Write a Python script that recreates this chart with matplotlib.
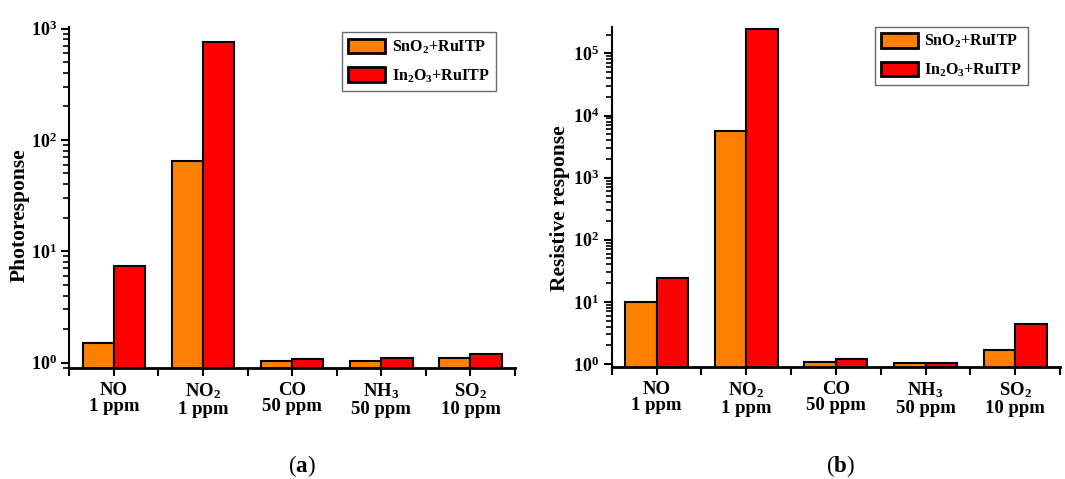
import matplotlib
matplotlib.use("Agg")
import matplotlib.pyplot as plt
import numpy as np
from matplotlib.ticker import LogLocator, FixedLocator, NullFormatter

plt.rcParams['font.family'] = ['Liberation Serif', 'DejaVu Serif']
plt.rcParams['font.weight'] = 'bold'
plt.rcParams['mathtext.fontset'] = 'custom'
plt.rcParams['mathtext.rm'] = 'Liberation Serif:bold'
plt.rcParams['mathtext.bf'] = 'Liberation Serif:bold'
plt.rcParams['mathtext.it'] = 'Liberation Serif:bold'
plt.rcParams['mathtext.default'] = 'bf'

categories = ['NO\n1 ppm', 'NO$_2$\n1 ppm', 'CO\n50 ppm', 'NH$_3$\n50 ppm', 'SO$_2$\n10 ppm']
series_names = ['SnO$_2$+RuITP', 'In$_2$O$_3$+RuITP']
colors = ['#FF8000', '#FF0000']

photo_sno2 = [1.51, 64.9, 1.04, 1.03, 1.09]
photo_in2o3 = [7.4, 757, 1.07, 1.09, 1.2]

resist_sno2 = [9.8, 5710, 1.08, 1.02, 1.68]
resist_in2o3 = [24.3, 2.48e5, 1.22, 1.03, 4.4]

fig = plt.figure(figsize=(10.65, 4.79), dpi=100)
ax_a = fig.add_axes([0.0651, 0.2324, 0.4185, 0.7119])
ax_b = fig.add_axes([0.5744, 0.2345, 0.4209, 0.7098])

x = np.arange(len(categories))
w = 0.35


def draw(ax, s1, s2, ylabel, ylim, legend_anchor, label_coords):
    ax.bar(x - w / 2, s1, w, color=colors[0], edgecolor='black', linewidth=1.5, label=series_names[0])
    ax.bar(x + w / 2, s2, w, color=colors[1], edgecolor='black', linewidth=1.5, label=series_names[1])
    ax.set_yscale('log')
    ax.set_ylim(*ylim)
    ax.set_xlim(-0.5, 4.5)
    ax.yaxis.set_major_locator(LogLocator(base=10, numticks=10))
    ax.yaxis.set_minor_locator(LogLocator(base=10, subs=np.arange(2, 10), numticks=20))
    ax.yaxis.set_minor_formatter(NullFormatter())
    ax.set_xticks(x)
    ax.set_xticklabels(categories, fontsize=13.5, fontweight='bold', linespacing=0.95)
    ax.xaxis.set_minor_locator(FixedLocator(np.arange(-0.5, 5.0, 1.0)))
    for s in ['top', 'right']:
        ax.spines[s].set_visible(False)
    ax.spines['left'].set_linewidth(1.5)
    ax.spines['bottom'].set_linewidth(2)
    ax.tick_params(axis='y', which='major', direction='out', length=6, width=1.5, labelsize=13, pad=3)
    ax.tick_params(axis='y', which='minor', direction='out', length=4, width=1.2)
    ax.tick_params(axis='x', which='both', direction='out', length=6, width=1.5)
    ax.tick_params(axis='x', which='major', labelsize=13.5, pad=4)
    ax.set_ylabel(ylabel, fontsize=15.5, fontweight='bold')
    ax.yaxis.set_label_coords(*label_coords)
    leg = ax.legend(loc='upper left', bbox_to_anchor=legend_anchor, fontsize=11.5, frameon=True, fancybox=False,
                    edgecolor='#444444', handlelength=2.3, handleheight=1.0, borderpad=0.4,
                    labelspacing=0.7, handletextpad=0.4, borderaxespad=0)
    leg.get_frame().set_linewidth(1.0)
    for p in leg.get_patches():
        p.set_linewidth(2)


draw(ax_a, photo_sno2, photo_in2o3, 'Photoresponse', (0.9, 1040), (0.612, 0.984), (-0.088, 0.448))
draw(ax_b, resist_sno2, resist_in2o3, 'Resistive response', (0.905, 2.7e5), (0.587, 1.0), (-0.092, 0.466))

fig.text(0.283, 0.027, '(' + r'$\mathbf{a}$' + ')', fontsize=16.5, fontweight='normal', ha='center', va='center')
fig.text(0.789, 0.027, '(' + r'$\mathbf{b}$' + ')', fontsize=16.5, fontweight='normal', ha='center', va='center')

fig.savefig('out.png', dpi=100)
